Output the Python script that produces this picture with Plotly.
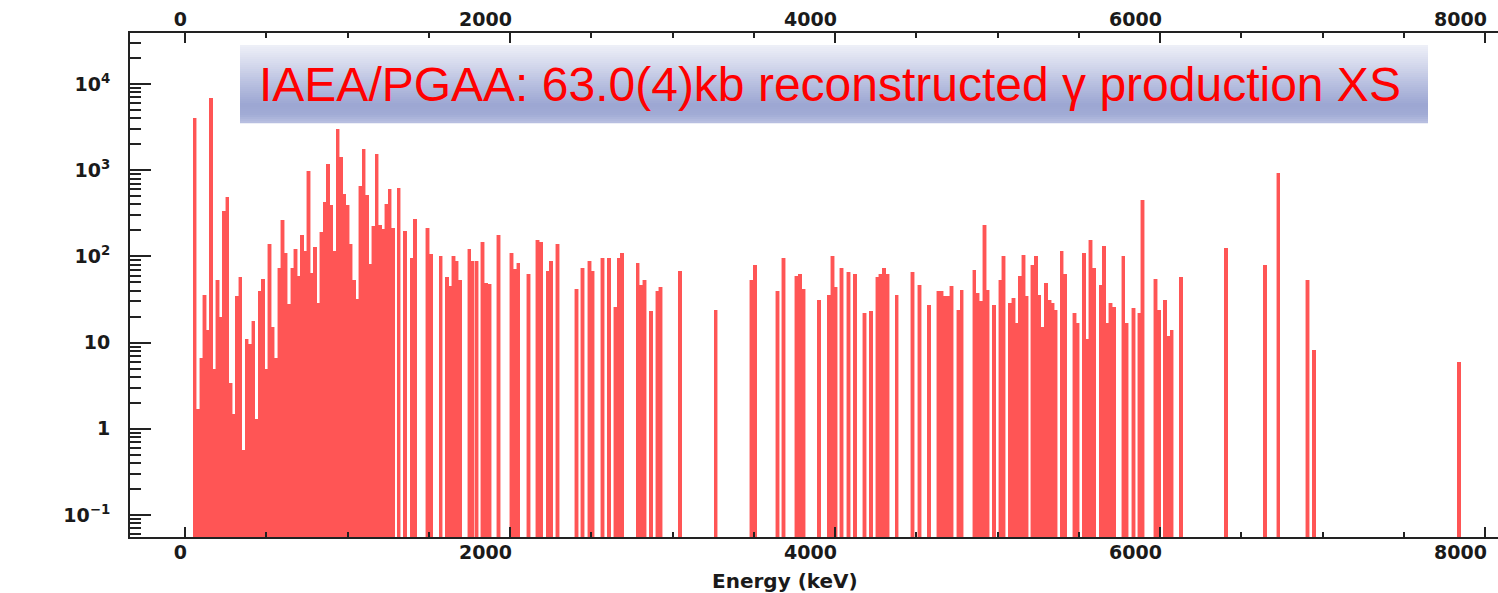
import plotly.graph_objects as go

# gamma-ray production cross sections (b), binned by energy (keV)
dense_energy = [60, 80, 100, 120, 140, 160, 180, 200, 220, 240, 260, 280, 300, 320, 340, 360,
                380, 400, 420, 440, 460, 480, 500, 520, 540, 560, 580, 600, 620, 640, 660, 680,
                700, 720, 740, 760, 780, 800, 820, 840, 860, 880, 900, 920, 940, 960, 980, 1000,
                1020, 1040, 1060, 1080, 1100, 1120, 1140, 1160, 1180, 1200, 1220, 1240, 1260, 1280]
dense_xs = [4000, 1.7, 6.6, 36, 14, 6900, 5.0, 53, 20, 335, 490, 3.4, 1.5, 35, 57, 0.57,
            11, 9.6, 18, 1.3, 40, 55, 5.0, 139, 15, 6.7, 73, 266, 110, 28, 74, 123,
            59, 175, 115, 975, 64, 128, 29, 191, 426, 1190, 390, 117, 3000, 1420, 534, 390,
            140, 53, 32, 650, 1770, 510, 81, 223, 1550, 233, 207, 408, 610, 213]

line_energy = [1315, 1354, 1395, 1415, 1492, 1514, 1574, 1612, 1633, 1653, 1672, 1692,
               1749, 1770, 1793, 1831, 1852, 1873, 1930, 2010, 2031, 2051, 2113, 2170,
               2191, 2232, 2252, 2292, 2410, 2447, 2488, 2509, 2568, 2609, 2650, 2669,
               2689, 2786, 2806, 2827, 2868, 2907, 2927, 3046, 3266, 3487, 3508, 3645,
               3682, 3764, 3785, 3805, 3902, 3963, 3984, 4004, 4041, 4082, 4123, 4181,
               4222, 4261, 4281, 4302, 4322, 4380, 4478, 4519, 4578, 4636, 4656, 4677,
               4697, 4718, 4759, 4780, 4857, 4878, 4899, 4919, 4940, 4979, 5018, 5038,
               5077, 5098, 5118, 5139, 5159, 5180, 5216, 5237, 5257, 5278, 5298, 5319,
               5339, 5358, 5395, 5415, 5473, 5493, 5532, 5553, 5573, 5594, 5635, 5655,
               5676, 5696, 5717, 5774, 5795, 5836, 5873, 5893, 5973, 5994, 6031, 6051,
               6072, 6129, 6406, 6646, 6728, 6907, 6948, 7840]
line_xs = [620, 195, 97, 268, 213, 106, 101, 57, 45, 101, 88, 53,
           122, 88, 88, 146, 49, 48, 175, 110, 71, 84, 63, 153,
           146, 67, 88, 138, 42, 73, 88, 67, 97, 97, 26, 97,
           110, 84, 46, 53, 23, 40, 44, 67, 24, 53, 80, 40,
           96, 60, 63, 42, 31, 36, 100, 44, 73, 66, 63, 22,
           23, 57, 63, 73, 63, 36, 66, 47, 27, 40, 40, 35,
           35, 45, 24, 41, 69, 38, 30, 229, 41, 27, 53, 100,
           29, 33, 17, 60, 104, 35, 80, 100, 36, 15, 49, 31,
           29, 24, 115, 63, 22, 17, 110, 11, 153, 73, 46, 132,
           17, 29, 26, 100, 17, 25, 22, 446, 55, 24, 31, 12,
           14, 57, 126, 79, 935, 53, 8.3, 6.0]

x_ticks = [0, 2000, 4000, 6000, 8000]
y_ticks = [0.1, 1, 10, 100, 1000, 10000]
y_ticktext = ["10<sup>\u22121</sup>", "1", "10", "10<sup>2</sup>", "10<sup>3</sup>", "10<sup>4</sup>"]

title_text = "IAEA/PGAA: 63.0(4)kb reconstructed \u03b3 production XS"

energy = dense_energy + line_energy
xs = dense_xs + line_xs

# plot area in pixels (for placing the banner)
L, R, T, B = 130, 1498, 33, 537
def px(x):
    return (x - L) / (R - L)
def py(y):
    return (B - y) / (B - T)

fig = go.Figure()
# light halo around bars, then the solid bars on top
fig.add_trace(go.Bar(x=energy, y=xs, width=27, marker=dict(color="#ffb4b4", line=dict(width=0)),
                     hoverinfo="skip", showlegend=False))
fig.add_trace(go.Bar(x=energy, y=xs, width=20, marker=dict(color="#ff5555", line=dict(width=0)),
                     showlegend=False))
# dummy point so the top axis is drawn
fig.add_trace(go.Scatter(x=[energy[0]], y=[xs[0]], xaxis="x2", mode="markers",
                         marker=dict(opacity=0), hoverinfo="skip", showlegend=False))

tick_font = dict(family="DejaVu Sans", size=19, color="#1a1a1a", weight="bold")
xcommon = dict(range=[-338.5, 8080], tickvals=x_ticks, ticks="inside", ticklen=10, tickwidth=2,
               tickcolor="#222", showline=True, linewidth=2, linecolor="#222", showgrid=False,
               zeroline=False, tickfont=tick_font, ticklabelposition="outside left",
               ticklabelshift=4, fixedrange=True, automargin=False,
               minor=dict(ticks="inside", ticklen=5, tickwidth=2, tickcolor="#222", dtick=500,
                          showgrid=False))

minor_y = [m * 10.0 ** n for n in range(-2, 5) for m in range(2, 10)]

# gradient banner built from thin strips
stops = [(45, (238, 240, 248)), (65, (212, 216, 236)), (85, (182, 190, 223)),
         (105, (156, 166, 210)), (115, (162, 172, 213)), (123, (186, 193, 226))]
shapes = []
for y0 in range(45, 123, 2):
    yc = y0 + 1
    for (ya, ca), (yb, cb) in zip(stops[:-1], stops[1:]):
        if ya <= yc <= yb:
            t = (yc - ya) / (yb - ya)
            c = tuple(round(a + (b - a) * t) for a, b in zip(ca, cb))
            break
    shapes.append(dict(type="rect", xref="paper", yref="paper", x0=px(240), x1=px(1428),
                       y0=py(y0 + 2.3), y1=py(y0), fillcolor="rgb(%d,%d,%d)" % c,
                       line=dict(width=0), layer="above"))

fig.update_layout(
    width=1498, height=593,
    margin=dict(l=L, r=1498 - R, t=T, b=593 - B, autoexpand=False),
    paper_bgcolor="white", plot_bgcolor="white",
    barmode="overlay", bargap=0, bargroupgap=0,
    showlegend=False,
    xaxis=dict(**xcommon, ticklabelstandoff=-3),
    xaxis2=dict(**xcommon, overlaying="x", side="top", anchor="y", ticklabelstandoff=-3),
    yaxis=dict(type="log", range=[-1.255, 4.591], tickvals=y_ticks, ticktext=y_ticktext,
               ticks="inside", ticklen=21, tickwidth=2, tickcolor="#222", showline=True,
               linewidth=2, linecolor="#222", showgrid=False, zeroline=False,
               tickfont=tick_font, ticklabelstandoff=14, fixedrange=True, automargin=False,
               minor=dict(ticks="inside", ticklen=11, tickwidth=2, tickcolor="#222",
                          tickvals=minor_y, showgrid=False)),
    shapes=shapes,
    annotations=[
        dict(text=title_text, xref="paper", yref="paper", x=px(830), y=py(85),
             xanchor="center", yanchor="middle", showarrow=False,
             font=dict(family="Liberation Sans", size=48, color="#ff0000")),
        dict(text="Energy (keV)", xref="paper", yref="paper", x=px(785), y=py(581),
             xanchor="center", yanchor="middle", showarrow=False,
             font=dict(family="DejaVu Sans", size=20, color="#1a1a1a", weight="bold")),
    ],
)

# drop the page's default body margin so the figure sits at the window's corner
fig.write_html("out.html", config={"displayModeBar": False},
               post_script="document.body.style.margin = '0';")
